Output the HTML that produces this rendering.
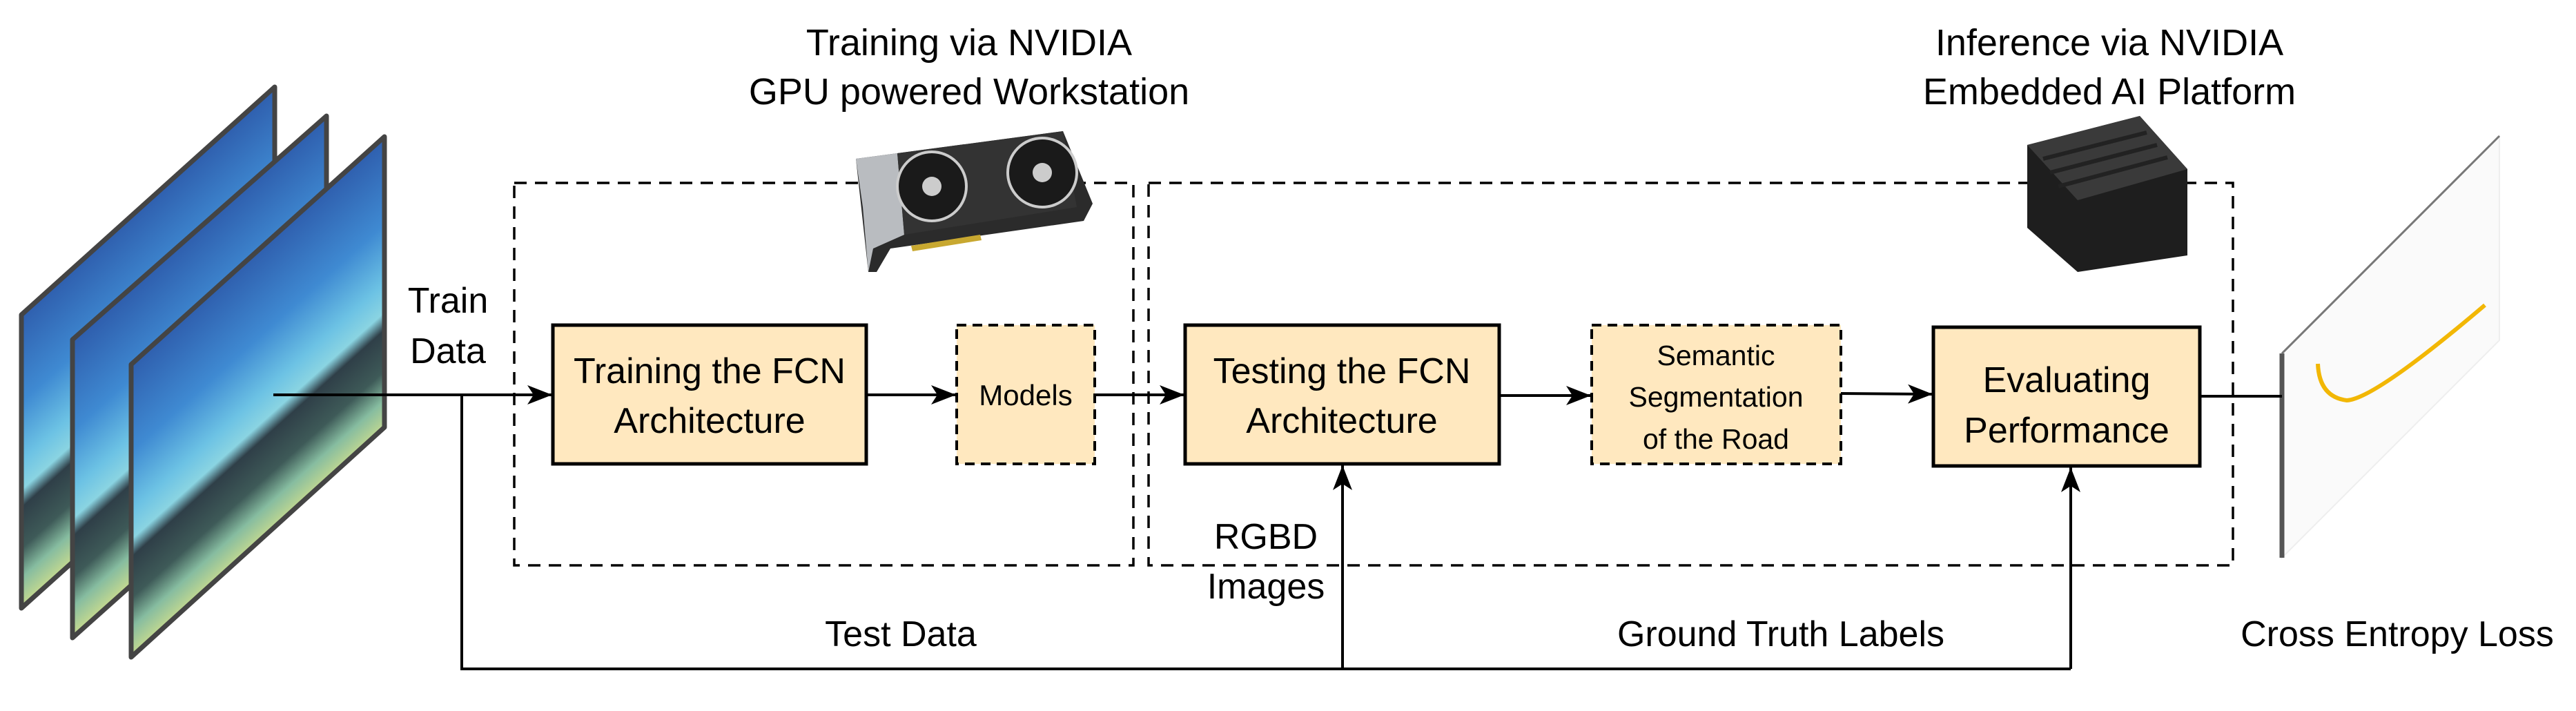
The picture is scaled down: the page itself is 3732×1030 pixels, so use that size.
<!DOCTYPE html>
<html><head><meta charset="utf-8"><style>
html,body{margin:0;padding:0;background:#fff;}
svg{display:block;}
text{font-family:"Liberation Sans",sans-serif;fill:#000;}
</style></head><body>
<svg width="3732" height="1030" viewBox="0 0 3732 1030" xmlns="http://www.w3.org/2000/svg">
<defs>
<linearGradient id="img" gradientUnits="userSpaceOnUse" x1="373" y1="363" x2="584" y2="598">
<stop offset="0" stop-color="#2f5fae"/>
<stop offset="0.3" stop-color="#3f8ad2"/>
<stop offset="0.5" stop-color="#6cc2e4"/>
<stop offset="0.6" stop-color="#8ad4e2"/>
<stop offset="0.66" stop-color="#2f3f48"/>
<stop offset="0.8" stop-color="#3e5a58"/>
<stop offset="0.9" stop-color="#86bca0"/>
<stop offset="1" stop-color="#c2d890"/>
</linearGradient>
<linearGradient id="img2" href="#img" gradientTransform="translate(-85,-30)"/>
<linearGradient id="img1" href="#img" gradientTransform="translate(-159,-72)"/>
<marker id="ar" viewBox="0 0 36 28" refX="36" refY="14" markerWidth="36" markerHeight="28" markerUnits="userSpaceOnUse" orient="auto">
<path d="M0,0 L36,14 L0,28 L9,14 z"/>
</marker>
</defs>

<!-- image stack -->
<g stroke="#444" stroke-width="7" stroke-linejoin="round">
<polygon points="31,456 398,126 398,551 31,881" fill="url(#img1)"/>
<polygon points="105,492 473,168 473,595 105,924" fill="url(#img2)"/>
<polygon points="190,528 557,198 557,619 190,952" fill="url(#img)"/>
</g>

<!-- titles -->
<text x="1404" y="80" font-size="54" text-anchor="middle">Training via NVIDIA</text>
<text x="1404" y="151" font-size="54" text-anchor="middle">GPU powered Workstation</text>
<text x="3056" y="80" font-size="54" text-anchor="middle">Inference via NVIDIA</text>
<text x="3056" y="151" font-size="54" text-anchor="middle">Embedded AI Platform</text>

<!-- dashed regions -->
<g fill="none" stroke="#000" stroke-width="3.5" stroke-dasharray="18,12">
<rect x="745" y="265" width="897" height="554"/>
<rect x="1664" y="265" width="1571" height="554"/>
</g>

<!-- GPU card -->
<g>
<polygon points="1240,230 1540,190 1583,295 1570,320 1290,360 1270,394 1258,394" fill="#2b2b2b"/>
<polygon points="1240,230 1300,222 1310,340 1265,360 1258,394 1250,300" fill="#b9bcc0"/>
<polygon points="1300,222 1540,190 1560,300 1310,340" fill="#333"/>
<circle cx="1350" cy="270" r="50" fill="#1a1a1a" stroke="#ccc" stroke-width="4"/>
<circle cx="1350" cy="270" r="14" fill="#ccc"/>
<circle cx="1510" cy="250" r="50" fill="#1a1a1a" stroke="#ccc" stroke-width="4"/>
<circle cx="1510" cy="250" r="14" fill="#ccc"/>
<polygon points="1320,356 1420,340 1422,348 1322,364" fill="#c8a830"/>
</g>

<!-- Jetson -->
<g>
<polygon points="2937,210 3100,168 3169,245 3169,370 3010,394 2937,330" fill="#1e1e1e"/>
<polygon points="2937,210 3100,168 3169,245 3010,290" fill="#3a3a3a"/>
<g stroke="#222" stroke-width="6">
<line x1="2960" y1="230" x2="3110" y2="192"/>
<line x1="2970" y1="250" x2="3125" y2="210"/>
<line x1="2982" y1="270" x2="3140" y2="228"/>
</g>
</g>

<!-- chart -->
<polygon points="3306,512 3621,197 3621,493 3306,808" fill="#fafafa" stroke="#eee" stroke-width="2"/>
<line x1="3306" y1="512" x2="3306" y2="808" stroke="#555" stroke-width="7"/>
<line x1="3306" y1="512" x2="3621" y2="197" stroke="#777" stroke-width="3"/>
<path d="M3358,527 Q3360,575 3400,580 Q3440,578 3600,442" fill="none" stroke="#f2b705" stroke-width="6"/>

<!-- boxes -->
<g fill="#ffe8bf" stroke="#000" stroke-width="5">
<rect x="801" y="471" width="454" height="201"/>
<rect x="1717" y="471" width="455" height="201"/>
<rect x="2801" y="474" width="386" height="201"/>
</g>
<g fill="#ffe8bf" stroke="#000" stroke-width="4" stroke-dasharray="14,9">
<rect x="1386" y="471" width="200" height="201"/>
<rect x="2306" y="471" width="361" height="201"/>
</g>

<text x="1028" y="555" font-size="52" text-anchor="middle">Training the FCN</text>
<text x="1028" y="627" font-size="52" text-anchor="middle">Architecture</text>
<text x="1486" y="587" font-size="42" text-anchor="middle">Models</text>
<text x="1944" y="555" font-size="52" text-anchor="middle">Testing the FCN</text>
<text x="1944" y="627" font-size="52" text-anchor="middle">Architecture</text>
<text x="2486" y="529" font-size="41" text-anchor="middle">Semantic</text>
<text x="2486" y="589" font-size="41" text-anchor="middle">Segmentation</text>
<text x="2486" y="650" font-size="41" text-anchor="middle">of the Road</text>
<text x="2994" y="568" font-size="52" text-anchor="middle">Evaluating</text>
<text x="2994" y="641" font-size="52" text-anchor="middle">Performance</text>

<!-- connectors -->
<g stroke="#000" stroke-width="4" fill="none">
<line x1="396" y1="572" x2="800" y2="572" marker-end="url(#ar)"/>
<line x1="1255" y1="572" x2="1385" y2="572" marker-end="url(#ar)"/>
<line x1="1586" y1="572" x2="1716" y2="572" marker-end="url(#ar)"/>
<line x1="2172" y1="573" x2="2305" y2="573" marker-end="url(#ar)"/>
<line x1="2667" y1="570" x2="2800" y2="571" marker-end="url(#ar)"/>
<line x1="3187" y1="574" x2="3306" y2="574"/>
<polyline points="669,572 669,969 3000,969"/>
<line x1="1945" y1="969" x2="1945" y2="674" marker-end="url(#ar)"/>
<line x1="3000" y1="969" x2="3000" y2="677" marker-end="url(#ar)"/>
</g>

<!-- labels -->
<text x="649" y="453" font-size="52" text-anchor="middle">Train</text>
<text x="649" y="526" font-size="52" text-anchor="middle">Data</text>
<text x="1834" y="795" font-size="52" text-anchor="middle">RGBD</text>
<text x="1834" y="867" font-size="52" text-anchor="middle">Images</text>
<text x="1305" y="936" font-size="52" text-anchor="middle">Test Data</text>
<text x="2580" y="936" font-size="52" text-anchor="middle">Ground Truth Labels</text>
<text x="3473" y="936" font-size="52" text-anchor="middle">Cross Entropy Loss</text>
</svg>
</body></html>
